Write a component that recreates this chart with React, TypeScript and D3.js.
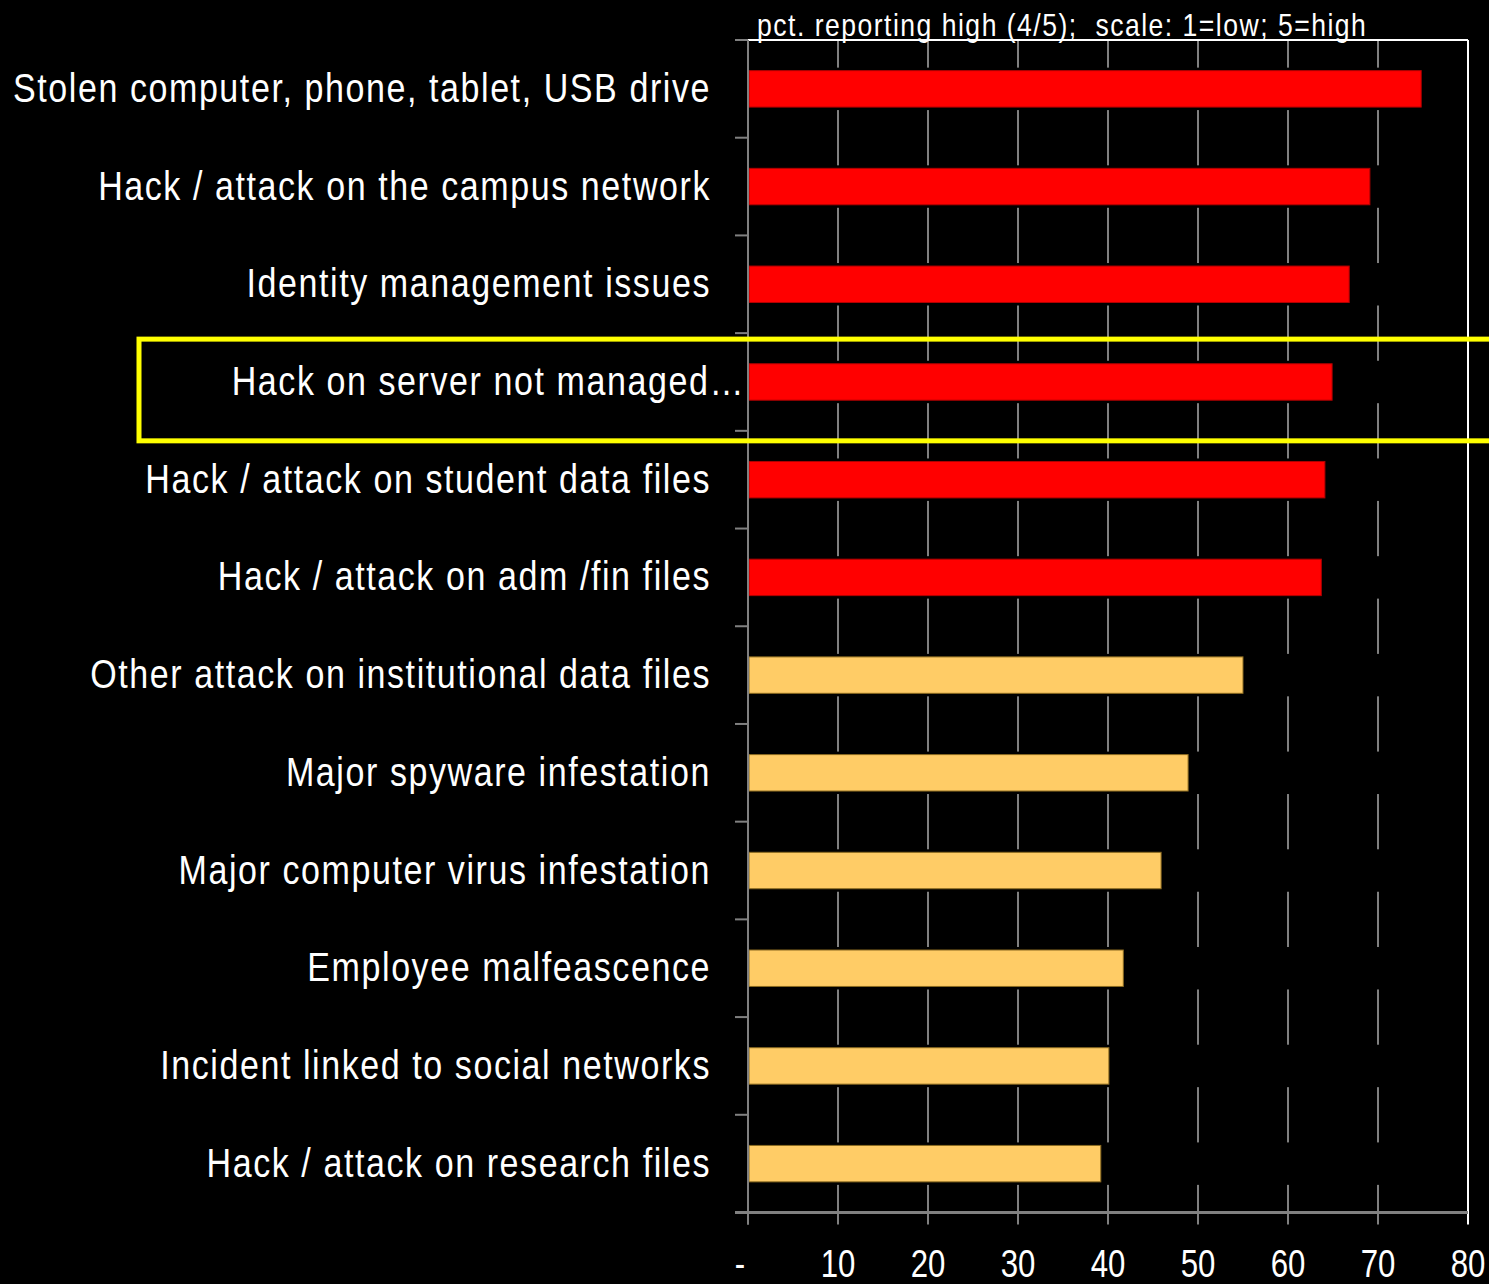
import React, { useEffect, useRef } from "react";
import * as d3 from "d3";

const categories = [
  "Stolen computer, phone, tablet, USB drive",
  "Hack / attack on the campus network",
  "Identity management issues",
  "Hack on server not managed…",
  "Hack / attack on student data files",
  "Hack / attack on adm /fin files",
  "Other attack on institutional data files",
  "Major spyware infestation",
  "Major computer virus infestation",
  "Employee malfeascence",
  "Incident linked to social networks",
  "Hack / attack on research files",
];
const values = [74.8, 69.1, 66.8, 64.9, 64.1, 63.7, 55.0, 48.9, 45.9, 41.7, 40.1, 39.2];
const highGroup = [true, true, true, true, true, true, false, false, false, false, false, false];
const xTicks = [0, 10, 20, 30, 40, 50, 60, 70, 80];
const tickLabels = ["-", "10", "20", "30", "40", "50", "60", "70", "80"];
const title = "pct. reporting high (4/5);  scale: 1=low; 5=high";
const highlighted = "Hack on server not managed…";

const W = 1489;
const H = 1284;
const FONT = "'Liberation Sans', Arial, sans-serif";
const SX = 0.83;

export default function App() {
  const ref = useRef<SVGSVGElement>(null);

  useEffect(() => {
    const svg = d3.select(ref.current);
    svg.selectAll("*").remove();

    const left = 748, right = 1468, top = 40, bottom = 1212.5;
    const x = d3.scaleLinear().domain([0, 80]).range([left, right]);
    const y = d3.scaleBand<string>().domain(categories).range([top, bottom]).paddingInner(0.627).paddingOuter(0.3135);
    const step = y.step();
    const bandTop = (c: string) => top + categories.indexOf(c) * step;

    svg.append("rect").attr("width", W).attr("height", H).attr("fill", "#000");

    // gridlines
    svg.append("g").selectAll("line").data(xTicks.filter((t) => t > 0 && t < 80)).join("line")
      .attr("x1", (d) => x(d)).attr("x2", (d) => x(d))
      .attr("y1", top).attr("y2", bottom)
      .attr("stroke", "#808080").attr("stroke-width", 2);

    // black gaps around bars
    svg.append("g").selectAll("rect").data(categories).join("rect")
      .attr("x", x(0) + 1)
      .attr("y", (d) => (y(d) as number) - 3)
      .attr("width", x(80) - x(0) - 3)
      .attr("height", y.bandwidth() + 6)
      .attr("fill", "#000");

    // plot border top and right
    svg.append("line").attr("x1", left - 2).attr("x2", right).attr("y1", top).attr("y2", top)
      .attr("stroke", "#ffffff").attr("stroke-width", 2);
    svg.append("line").attr("x1", right).attr("x2", right).attr("y1", top).attr("y2", bottom + 12)
      .attr("stroke", "#ffffff").attr("stroke-width", 2);

    // bars
    svg.append("g").selectAll("rect").data(categories).join("rect")
      .attr("x", x(0) + 1)
      .attr("y", (d) => y(d) as number)
      .attr("width", (d, i) => x(values[i]) - x(0) - 1)
      .attr("height", y.bandwidth())
      .attr("fill", (d, i) => (highGroup[i] ? "#ff0000" : "#ffcc66"))
      .attr("stroke", (d, i) => (highGroup[i] ? "#b00000" : "#8a6a20"))
      .attr("stroke-width", 1);

    // left axis
    svg.append("line").attr("x1", left).attr("x2", left).attr("y1", top).attr("y2", bottom + 12)
      .attr("stroke", "#808080").attr("stroke-width", 2);
    const yTickPos = categories.map((c) => bandTop(c)).concat([bottom]);
    svg.append("g").selectAll("line").data(yTickPos).join("line")
      .attr("x1", left - 13).attr("x2", left).attr("y1", (d) => d).attr("y2", (d) => d)
      .attr("stroke", "#808080").attr("stroke-width", 2);

    // bottom axis
    svg.append("line").attr("x1", left - 13).attr("x2", right).attr("y1", bottom).attr("y2", bottom)
      .attr("stroke", "#808080").attr("stroke-width", 3);
    svg.append("g").selectAll("line").data(xTicks.filter((t) => t < 80)).join("line")
      .attr("x1", (d) => x(d)).attr("x2", (d) => x(d))
      .attr("y1", bottom).attr("y2", bottom + 12)
      .attr("stroke", "#808080").attr("stroke-width", 2);

    svg.append("g").selectAll("text").data(xTicks).join("text")
      .attr("transform", (d) => `translate(${d === 0 ? x(d) - 8 : x(d)},1277) scale(0.8,1)`)
      .attr("text-anchor", "middle")
      .attr("fill", "#fff")
      .attr("font-family", FONT)
      .attr("font-size", 39)
      .text((d, i) => tickLabels[i]);

    // category labels
    svg.append("g").selectAll("text").data(categories).join("text")
      .attr("transform", (d) => `translate(${d === highlighted ? 745 : 711},${(y(d) as number) + y.bandwidth() / 2 + 13}) scale(${SX},1)`)
      .attr("text-anchor", "end")
      .attr("fill", "#fff")
      .attr("font-family", FONT)
      .attr("font-size", 41)
      .attr("letter-spacing", 1.9)
      .text((d) => d);

    // title
    svg.append("text").attr("transform", `translate(757,36) scale(${SX},1)`)
      .attr("fill", "#fff").attr("font-family", FONT).attr("font-size", 32)
      .attr("letter-spacing", 1.8)
      .style("white-space", "pre")
      .text(title);

    // highlight box
    const hb = bandTop(highlighted);
    svg.append("rect")
      .attr("x", 139).attr("y", hb + 6)
      .attr("width", 1400).attr("height", step + 4)
      .attr("fill", "none").attr("stroke", "#ffff00").attr("stroke-width", 5);
  }, []);

  return (
    <svg ref={ref} width={W} height={H} style={{ position: "absolute", left: 0, top: 0, display: "block" }} />
  );
}
